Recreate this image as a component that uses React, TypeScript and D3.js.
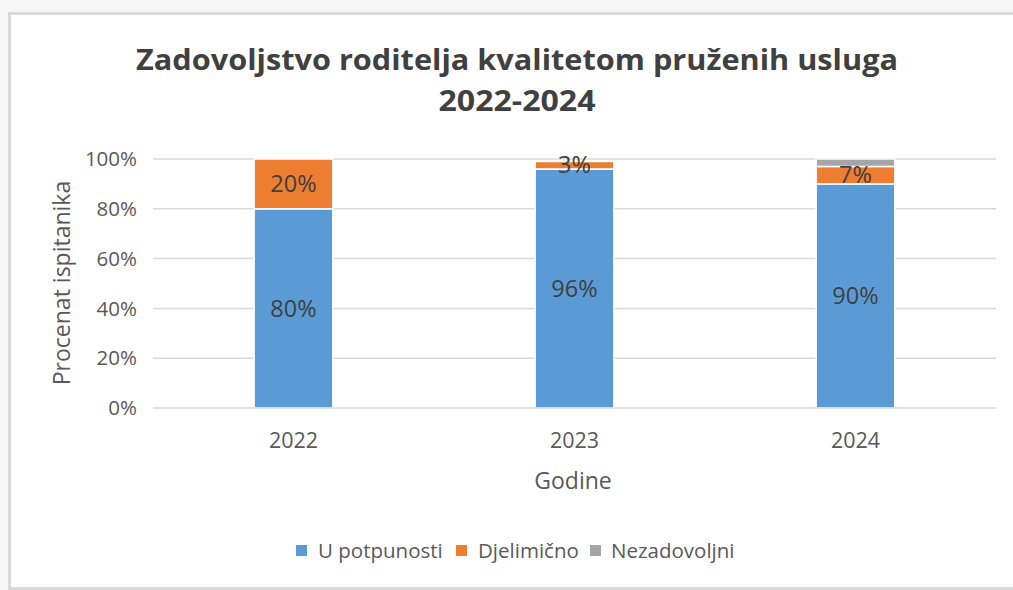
import React from "react";
import * as d3 from "d3";

const years = ["2022", "2023", "2024"];
const seriesNames = ["U potpunosti", "Djelimično", "Nezadovoljni"];
const uPotpunosti = [80, 96, 90];
const djelimicno = [20, 3, 7];
const nezadovoljni = [0, 0, 3];
const colors = ["#5b9bd5", "#ed7d31", "#a5a5a5"];
const yTicks = [0, 20, 40, 60, 80, 100];

const W = 1013;
const H = 590;
const FONT = "'Open Sans', 'Liberation Sans', sans-serif";

export default function App() {
  const x = d3.scaleBand<string>().domain(years).range([153, 996]).paddingInner(0.72).paddingOuter(0.36);
  const y = d3.scaleLinear().domain([0, 100]).range([408, 159]);

  const rows = years.map((yr, i) => ({
    year: yr,
    [seriesNames[0]]: uPotpunosti[i],
    [seriesNames[1]]: djelimicno[i],
    [seriesNames[2]]: nezadovoljni[i],
  }));
  const stacked = d3.stack<any>().keys(seriesNames)(rows);

  const labelSeries = [0, 1];

  return (
    <svg width={W} height={H} style={{ position: "absolute", left: 0, top: 0 }}>
      <rect x={0} y={0} width={W} height={H} fill="#f6f6f6" />
      <rect x={9.5} y={13.5} width={W + 10} height={H - 15} fill="#ffffff" stroke="#d9d9d9" strokeWidth={3} />
      <text x={517} y={70} textAnchor="middle" fontFamily={FONT} fontWeight={700} fontSize={29} fill="#404040" textLength={762} lengthAdjust="spacingAndGlyphs">
        Zadovoljstvo roditelja kvalitetom pruženih usluga
      </text>
      <text x={517} y={111} textAnchor="middle" fontFamily={FONT} fontWeight={700} fontSize={29} fill="#404040" textLength={157} lengthAdjust="spacingAndGlyphs">
        2022-2024
      </text>
      {yTicks.map((t) => (
        <g key={t}>
          {t > 0 && <line x1={153} x2={996} y1={y(t)} y2={y(t)} stroke="#d9d9d9" strokeWidth={1.5} />}
          <text x={137} y={y(t)} dy="0.35em" textAnchor="end" fontFamily={FONT} fontSize={20.5} fill="#595959">
            {t}%
          </text>
        </g>
      ))}
      {stacked.map((s, si) =>
        s.map((d, i) => {
          const h = y(d[0]) - y(d[1]);
          if (h <= 0) return null;
          return (
            <rect key={si + "-" + i} x={x(years[i])!} width={x.bandwidth()} y={y(d[1])} height={h} fill={colors[si]} stroke="#ffffff" strokeWidth={1.5} />
          );
        })
      )}
      <line x1={153} x2={996} y1={y(0)} y2={y(0)} stroke="#d9d9d9" strokeWidth={1.5} />
      {stacked.map((s, si) =>
        labelSeries.includes(si)
          ? s.map((d, i) => {
              const v = d[1] - d[0];
              if (v <= 0) return null;
              return (
                <text key={"l" + si + i} x={x(years[i])! + x.bandwidth() / 2} y={y((d[0] + d[1]) / 2)} dy="0.35em" textAnchor="middle" fontFamily={FONT} fontSize={23.5} fill="#404040">
                  {v}%
                </text>
              );
            })
          : null
      )}
      {years.map((yr) => (
        <text key={yr} x={x(yr)! + x.bandwidth() / 2} y={440} dy="0.35em" textAnchor="middle" fontFamily={FONT} fontSize={21.5} fill="#595959">
          {yr}
        </text>
      ))}
      <text x={573} y={481} dy="0.35em" textAnchor="middle" fontFamily={FONT} fontSize={23} fill="#595959">
        Godine
      </text>
      <text transform="translate(62,283) rotate(-90)" dy="0.35em" textAnchor="middle" fontFamily={FONT} fontSize={23} fill="#595959">
        Procenat ispitanika
      </text>
      {[
        { sq: 296, tx: 318 },
        { sq: 456, tx: 478 },
        { sq: 590, tx: 611 },
      ].map((p, i) => (
        <g key={i}>
          <rect x={p.sq} y={545} width={11} height={11} fill={colors[i]} />
          <text x={p.tx} y={550.5} dy="0.35em" fontFamily={FONT} fontSize={20.5} fill="#595959">
            {seriesNames[i]}
          </text>
        </g>
      ))}
    </svg>
  );
}
